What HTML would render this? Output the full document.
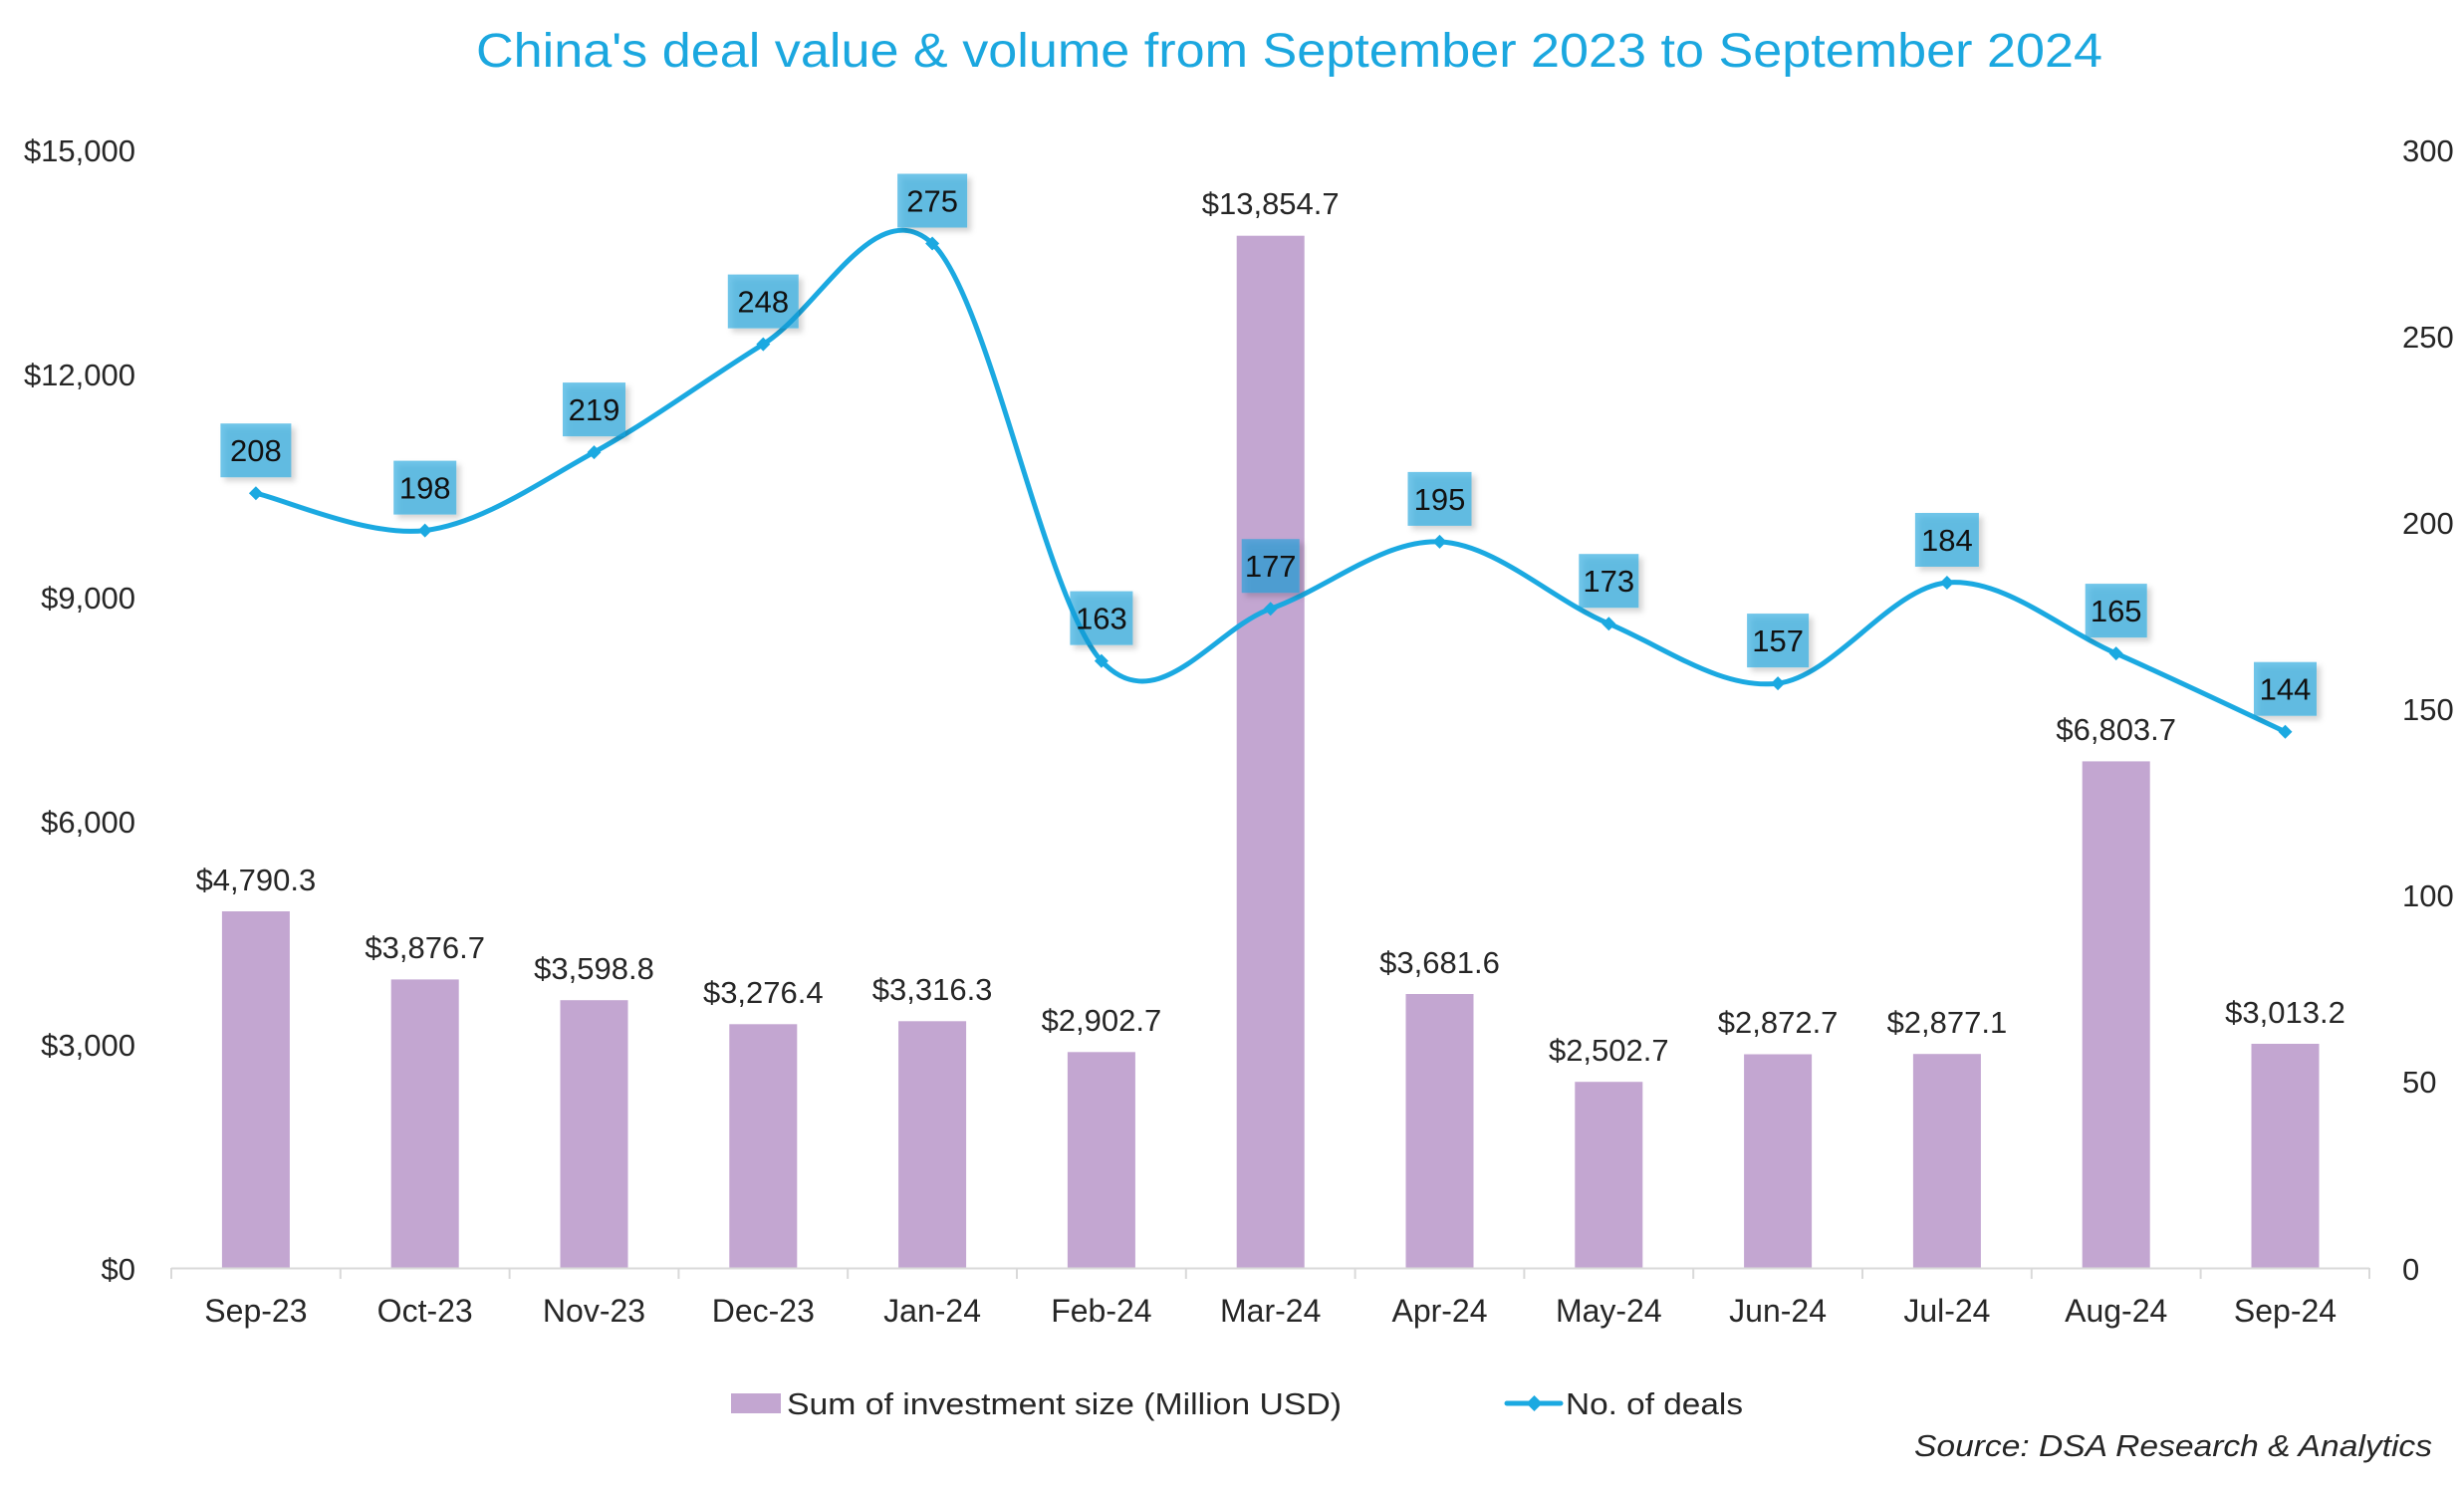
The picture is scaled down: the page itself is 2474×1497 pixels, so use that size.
<!DOCTYPE html>
<html>
<head>
<meta charset="utf-8">
<style>
  html, body { margin: 0; padding: 0; background: #ffffff; }
  body { width: 2474px; height: 1497px; overflow: hidden; }
  svg { display: block; }
  text { font-family: "Liberation Sans", "DejaVu Sans", sans-serif; fill: #262626; }
</style>
</head>
<body>
<svg width="2474" height="1497" viewBox="0 0 2474 1497" xmlns="http://www.w3.org/2000/svg">
  <defs>
    <filter id="sh" x="-30%" y="-30%" width="160%" height="160%">
      <feDropShadow dx="4" dy="4" stdDeviation="3" flood-color="#000000" flood-opacity="0.28"/>
    </filter>
  </defs>
  <rect x="0" y="0" width="2474" height="1497" fill="#ffffff"/>

  <!-- Title -->
  <text x="478" y="67" font-size="48" style="fill:#1BA7DF" textLength="1633" lengthAdjust="spacingAndGlyphs">China's deal value &amp; volume from September 2023 to September 2024</text>

  <!-- Left axis labels -->
  <g font-size="31" text-anchor="end">
    <text x="136" y="162">$15,000</text>
    <text x="136" y="387">$12,000</text>
    <text x="136" y="611">$9,000</text>
    <text x="136" y="836">$6,000</text>
    <text x="136" y="1060">$3,000</text>
    <text x="136" y="1285">$0</text>
  </g>

  <!-- Right axis labels -->
  <g font-size="31" text-anchor="start">
    <text x="2412" y="162">300</text>
    <text x="2412" y="349">250</text>
    <text x="2412" y="536">200</text>
    <text x="2412" y="723">150</text>
    <text x="2412" y="910">100</text>
    <text x="2412" y="1097">50</text>
    <text x="2412" y="1285">0</text>
  </g>

  <!-- Bars -->
  <g fill="#C3A6D1">
    <rect x="222.9" y="915.0" width="68" height="358.5"/>
    <rect x="392.7" y="983.4" width="68" height="290.1"/>
    <rect x="562.5" y="1004.2" width="68" height="269.3"/>
    <rect x="732.3" y="1028.3" width="68" height="245.2"/>
    <rect x="902.1" y="1025.3" width="68" height="248.2"/>
    <rect x="1071.9" y="1056.3" width="68" height="217.2"/>
    <rect x="1241.7" y="236.7" width="68" height="1036.8"/>
    <rect x="1411.5" y="998.0" width="68" height="275.5"/>
    <rect x="1581.3" y="1086.2" width="68" height="187.3"/>
    <rect x="1751.1" y="1058.5" width="68" height="215.0"/>
    <rect x="1920.9" y="1058.2" width="68" height="215.3"/>
    <rect x="2090.7" y="764.4" width="68" height="509.1"/>
    <rect x="2260.5" y="1048.0" width="68" height="225.5"/>
  </g>

  <!-- X axis -->
  <g stroke="#D9D9D9" stroke-width="2" fill="none">
    <line x1="172" y1="1273.5" x2="2379" y2="1273.5"/>
    <line x1="172" y1="1273" x2="172" y2="1284"/>
    <line x1="341.8" y1="1273" x2="341.8" y2="1284"/>
    <line x1="511.6" y1="1273" x2="511.6" y2="1284"/>
    <line x1="681.4" y1="1273" x2="681.4" y2="1284"/>
    <line x1="851.2" y1="1273" x2="851.2" y2="1284"/>
    <line x1="1021" y1="1273" x2="1021" y2="1284"/>
    <line x1="1190.8" y1="1273" x2="1190.8" y2="1284"/>
    <line x1="1360.6" y1="1273" x2="1360.6" y2="1284"/>
    <line x1="1530.4" y1="1273" x2="1530.4" y2="1284"/>
    <line x1="1700.2" y1="1273" x2="1700.2" y2="1284"/>
    <line x1="1870" y1="1273" x2="1870" y2="1284"/>
    <line x1="2039.8" y1="1273" x2="2039.8" y2="1284"/>
    <line x1="2209.6" y1="1273" x2="2209.6" y2="1284"/>
    <line x1="2379" y1="1273" x2="2379" y2="1284"/>
  </g>

  <!-- X labels -->
  <g font-size="32" text-anchor="middle">
    <text x="256.9" y="1327">Sep-23</text>
    <text x="426.7" y="1327">Oct-23</text>
    <text x="596.5" y="1327">Nov-23</text>
    <text x="766.3" y="1327">Dec-23</text>
    <text x="936.1" y="1327">Jan-24</text>
    <text x="1105.9" y="1327">Feb-24</text>
    <text x="1275.7" y="1327">Mar-24</text>
    <text x="1445.5" y="1327">Apr-24</text>
    <text x="1615.3" y="1327">May-24</text>
    <text x="1785.1" y="1327">Jun-24</text>
    <text x="1954.9" y="1327">Jul-24</text>
    <text x="2124.7" y="1327">Aug-24</text>
    <text x="2294.5" y="1327">Sep-24</text>
  </g>

  <!-- Bar value labels -->
  <g font-size="31" text-anchor="middle">
    <text x="256.9" y="894">$4,790.3</text>
    <text x="426.7" y="962">$3,876.7</text>
    <text x="596.5" y="983">$3,598.8</text>
    <text x="766.3" y="1007">$3,276.4</text>
    <text x="936.1" y="1004">$3,316.3</text>
    <text x="1105.9" y="1035">$2,902.7</text>
    <text x="1275.7" y="215">$13,854.7</text>
    <text x="1445.5" y="977">$3,681.6</text>
    <text x="1615.3" y="1065">$2,502.7</text>
    <text x="1785.1" y="1037">$2,872.7</text>
    <text x="1954.9" y="1037">$2,877.1</text>
    <text x="2124.7" y="743">$6,803.7</text>
    <text x="2294.5" y="1027">$3,013.2</text>
  </g>

  <!-- Smoothed line -->
  <path fill="none" stroke="#1BA9E1" stroke-width="5" stroke-linecap="round" stroke-linejoin="round"
    d="M256.9,495.2 C285.2,501.4 370.1,539.45 426.7,532.6
       C483.3,525.75 539.9,485.27 596.5,454.1
       C653.1,422.93 709.7,380.53 766.3,345.6
       C822.9,310.67 879.5,191.5 936.1,244.5
       C992.7,297.5 1049.3,602.48 1105.9,663.6
       C1162.5,724.72 1219.1,631.15 1275.7,611.2
       C1332.3,591.25 1388.9,541.4 1445.5,543.9
       C1502.1,546.4 1558.7,602.5 1615.3,626.2
       C1671.9,649.9 1728.5,692.97 1785.1,686.1
       C1841.7,679.23 1898.3,590 1954.9,585.0
       C2011.5,580 2068.1,631.15 2124.7,656.1
       C2181.3,681.05 2266.2,721.6 2294.5,734.7"/>

  <!-- Markers -->
  <g fill="#1BA9E1">
    <path d="M256.9,488.2 L263.9,495.2 L256.9,502.2 L249.9,495.2 Z"/>
    <path d="M426.7,525.6 L433.7,532.6 L426.7,539.6 L419.7,532.6 Z"/>
    <path d="M596.5,447.1 L603.5,454.1 L596.5,461.1 L589.5,454.1 Z"/>
    <path d="M766.3,338.6 L773.3,345.6 L766.3,352.6 L759.3,345.6 Z"/>
    <path d="M936.1,237.5 L943.1,244.5 L936.1,251.5 L929.1,244.5 Z"/>
    <path d="M1105.9,656.6 L1112.9,663.6 L1105.9,670.6 L1098.9,663.6 Z"/>
    <path d="M1275.7,604.2 L1282.7,611.2 L1275.7,618.2 L1268.7,611.2 Z"/>
    <path d="M1445.5,536.9 L1452.5,543.9 L1445.5,550.9 L1438.5,543.9 Z"/>
    <path d="M1615.3,619.2 L1622.3,626.2 L1615.3,633.2 L1608.3,626.2 Z"/>
    <path d="M1785.1,679.1 L1792.1,686.1 L1785.1,693.1 L1778.1,686.1 Z"/>
    <path d="M1954.9,578.0 L1961.9,585.0 L1954.9,592.0 L1947.9,585.0 Z"/>
    <path d="M2124.7,649.1 L2131.7,656.1 L2124.7,663.1 L2117.7,656.1 Z"/>
    <path d="M2294.5,727.7 L2301.5,734.7 L2294.5,741.7 L2287.5,734.7 Z"/>
  </g>

  <!-- Line data label boxes -->
  <g fill="rgba(23,160,220,0.6)" filter="url(#sh)">
    <rect x="221.4" y="425.2" width="71" height="54"/>
    <rect x="395.2" y="462.6" width="63" height="54"/>
    <rect x="565.0" y="384.1" width="63" height="54"/>
    <rect x="730.8" y="275.6" width="71" height="54"/>
    <rect x="901.1" y="174.5" width="70" height="54"/>
    <rect x="1074.4" y="593.6" width="63" height="54"/>
    <rect x="1246.7" y="541.2" width="58" height="54"/>
    <rect x="1413.5" y="473.9" width="64" height="54"/>
    <rect x="1585.3" y="556.2" width="60" height="54"/>
    <rect x="1754.1" y="616.1" width="62" height="54"/>
    <rect x="1922.9" y="515.0" width="64" height="54"/>
    <rect x="2093.7" y="586.1" width="62" height="54"/>
    <rect x="2263.0" y="664.7" width="63" height="54"/>
  </g>
  <g font-size="31" text-anchor="middle">
    <text x="256.9" y="463.2" style="fill:#111">208</text>
    <text x="426.7" y="500.6" style="fill:#111">198</text>
    <text x="596.5" y="422.1" style="fill:#111">219</text>
    <text x="766.3" y="313.6" style="fill:#111">248</text>
    <text x="936.1" y="212.5" style="fill:#111">275</text>
    <text x="1105.9" y="631.6" style="fill:#111">163</text>
    <text x="1275.7" y="579.2" style="fill:#111">177</text>
    <text x="1445.5" y="511.9" style="fill:#111">195</text>
    <text x="1615.3" y="594.2" style="fill:#111">173</text>
    <text x="1785.1" y="654.1" style="fill:#111">157</text>
    <text x="1954.9" y="553.0" style="fill:#111">184</text>
    <text x="2124.7" y="624.1" style="fill:#111">165</text>
    <text x="2294.5" y="702.7" style="fill:#111">144</text>
  </g>

  <!-- Legend -->
  <rect x="734" y="1399" width="50" height="20" fill="#C3A6D1"/>
  <text x="790" y="1420" font-size="31" textLength="557" lengthAdjust="spacingAndGlyphs">Sum of investment size (Million USD)</text>
  <line x1="1513" y1="1409" x2="1567" y2="1409" stroke="#1BA9E1" stroke-width="5" stroke-linecap="round"/>
  <path d="M1540.5,1401 L1548.5,1409 L1540.5,1417 L1532.5,1409 Z" fill="#1BA9E1"/>
  <text x="1572" y="1420" font-size="31" textLength="178" lengthAdjust="spacingAndGlyphs">No. of deals</text>

  <!-- Source -->
  <text x="1922" y="1462" font-size="31" font-style="italic" textLength="520" lengthAdjust="spacingAndGlyphs">Source: DSA Research &amp; Analytics</text>
</svg>
</body>
</html>
